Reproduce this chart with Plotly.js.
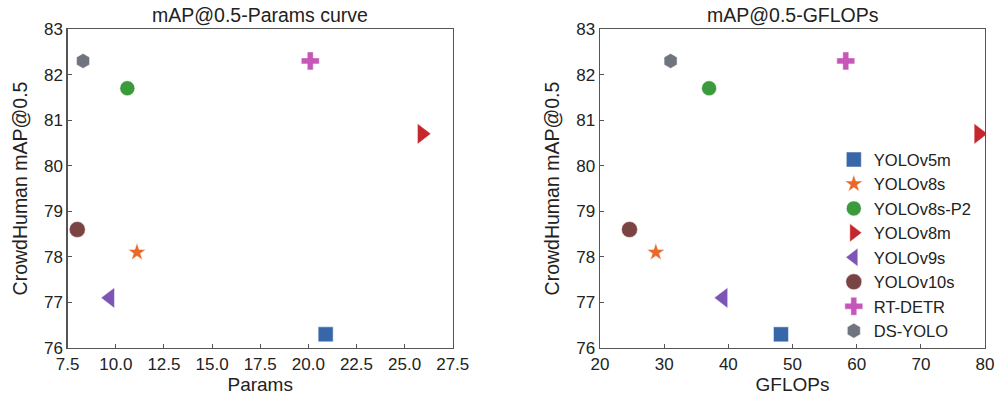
<!DOCTYPE html>
<html>
<head>
<meta charset="utf-8">
<script src="https://cdn.plot.ly/plotly-3.0.1.min.js"></script>
<style>html,body{margin:0;padding:0;background:#fff;}#chart{width:995px;height:397px;}</style>
</head>
<body>
<div id="chart"></div>
<script>
const models = ["YOLOv5m", "YOLOv8s", "YOLOv8s-P2", "YOLOv8m", "YOLOv9s", "YOLOv10s", "RT-DETR", "DS-YOLO"];
const params = [20.9, 11.1, 10.6, 25.9, 9.7, 8.0, 20.1, 8.3];
const gflops = [48.2, 28.7, 37.0, 79.0, 39.2, 24.6, 58.3, 31.0];
const map50 = [76.3, 78.1, 81.7, 80.7, 77.1, 78.6, 82.3, 82.3];
const xTicksParams = [7.5, 10.0, 12.5, 15.0, 17.5, 20.0, 22.5, 25.0, 27.5];
const xTicksGflops = [20, 30, 40, 50, 60, 70, 80];
const yTicks = [76, 77, 78, 79, 80, 81, 82, 83];

const colors = ["#3767a8", "#e8692a", "#3b9a3b", "#c4282e", "#7d55b4", "#7a4443", "#c657b9", "#70747e"];
const symbols = ["square", "star", "circle", "triangle-right", "triangle-left", "circle", "cross", "hexagon"];
const sizes = [15, 13.5, 15, 18, 18, 16, 15, 15];

const traces = [];
models.forEach((m, i) => {
  traces.push({
    x: [params[i]], y: [map50[i]], type: "scatter", mode: "markers", name: m,
    legendgroup: m, showlegend: false, xaxis: "x", yaxis: "y",
    marker: {color: colors[i], symbol: symbols[i], size: sizes[i], line: {color: "#ffffff", width: 0.5}}
  });
  traces.push({
    x: [gflops[i]], y: [map50[i]], type: "scatter", mode: "markers", name: m,
    legendgroup: m, showlegend: true, xaxis: "x2", yaxis: "y2",
    marker: {color: colors[i], symbol: symbols[i], size: sizes[i], line: {color: "#ffffff", width: 0.5}}
  });
});

const fam = "Liberation Sans, Arial, sans-serif";
const axisCommon = {
  showline: true, linecolor: "#555", linewidth: 1.3, mirror: true,
  ticks: "inside", ticklen: 4, tickcolor: "#555", tickwidth: 1,
  showgrid: false, zeroline: false,
  tickfont: {family: fam, size: 17, color: "#222"}
};

const plotH = 397 - 29 - 49;
const layout = {
  width: 995, height: 397,
  margin: {l: 0, r: 0, t: 29, b: 49},
  paper_bgcolor: "#fff", plot_bgcolor: "#fff",
  font: {family: fam, size: 16, color: "#222"},
  showlegend: true,
  xaxis: Object.assign({}, axisCommon, {domain: [0.068, 0.455], range: [7.5, 27.5], tickvals: xTicksParams, ticktext: xTicksParams.map(v => v.toFixed(1)),
    title: {text: "Params", font: {size: 19}, standoff: 5}}),
  yaxis: Object.assign({}, axisCommon, {range: [76, 83], tickvals: yTicks,
    title: {text: "CrowdHuman mAP@0.5", font: {size: 19.5}, standoff: 11}}),
  xaxis2: Object.assign({}, axisCommon, {domain: [0.603, 0.990], range: [20, 80], tickvals: xTicksGflops, anchor: "y2",
    title: {text: "GFLOPs", font: {size: 19}, standoff: 5}}),
  yaxis2: Object.assign({}, axisCommon, {range: [76, 83], tickvals: yTicks, anchor: "x2",
    title: {text: "CrowdHuman mAP@0.5", font: {size: 19.5}, standoff: 11}}),
  legend: {x: 0.838, y: 0.322, xref: "paper", yref: "paper", xanchor: "left", yanchor: "middle",
    bgcolor: "rgba(0,0,0,0)", borderwidth: 0, font: {size: 16.5, color: "#222"}, tracegroupgap: 0, itemsizing: "trace"},
  annotations: [
    {text: "mAP@0.5-Params curve", x: 0.2615, xanchor: "center", y: 1 + (29 - 15) / plotH, yanchor: "middle", xref: "paper", yref: "paper", showarrow: false, font: {size: 19.5, color: "#222"}},
    {text: "mAP@0.5-GFLOPs", x: 0.7965, xanchor: "center", y: 1 + (29 - 15) / plotH, yanchor: "middle", xref: "paper", yref: "paper", showarrow: false, font: {size: 19.5, color: "#222"}}
  ]
};

Plotly.newPlot("chart", traces, layout, {staticPlot: true});
</script>
</body>
</html>
